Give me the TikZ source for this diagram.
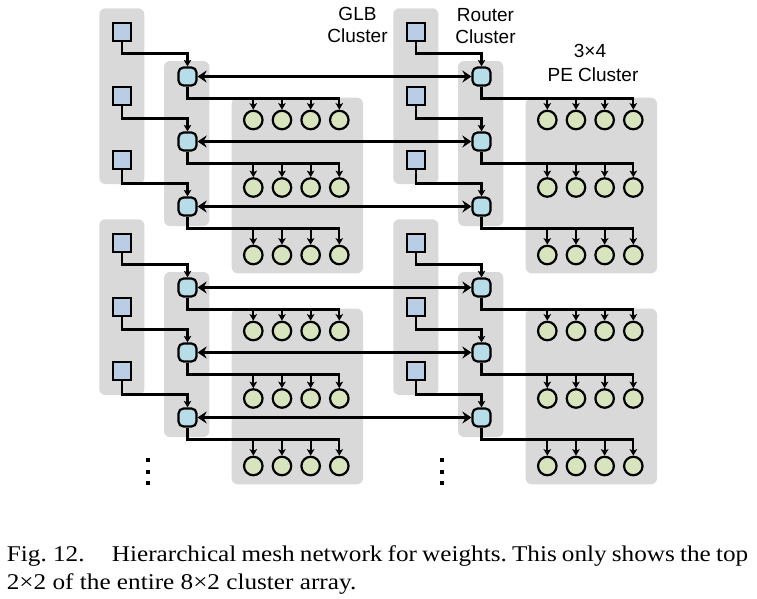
\documentclass[tikz,border=0pt]{standalone}
\usepackage{fontspec}
\setmainfont{Liberation Sans}
\newfontfamily\capfont[FakeStretch=1.12]{Liberation Serif}
\usetikzlibrary{arrows.meta,calc}
\definecolor{bgc}{HTML}{D9D9D9}
\definecolor{glbc}{HTML}{B9CDE5}
\definecolor{rtrc}{HTML}{B7DEE8}
\definecolor{pec}{HTML}{D7E4BD}
\tikzset{
 bgbox/.style={fill=bgc, rounded corners=6pt},
 glb/.style={draw, line width=2.2pt, fill=glbc, minimum size=18pt, inner sep=0pt},
 rtr/.style={draw, line width=2.2pt, fill=rtrc, minimum size=18pt, inner sep=0pt, rounded corners=5pt},
 pe/.style={circle, draw, line width=2.2pt, fill=pec, minimum size=18.5pt, inner sep=0pt},
 wire/.style={line width=2.2pt},
 warrow/.style={wire, -{Stealth[length=6.5pt,width=7.5pt,inset=1.5pt]}},
 biarrow/.style={line width=3.2pt, {Stealth[length=9pt,width=12pt,inset=3pt]}-{Stealth[length=9pt,width=12pt,inset=3pt]}},
 lbl/.style={font=\fontsize{19}{22}\selectfont, inner sep=0pt, anchor=base},
 capt/.style={font=\capfont\fontsize{22.5}{27}\selectfont\frenchspacing, inner sep=0pt, anchor=base west},
 dotbox/.style={fill=black, minimum size=3.8pt, inner sep=0pt}
}
\begin{document}
\begin{tikzpicture}[x=1pt,y=-1pt]
\fill[white] (0,0) rectangle (757,598);
\useasboundingbox (0,0) rectangle (757,598);
\foreach \i in {0,1}{
 \foreach \j in {0,1}{
  \pgfmathsetmacro\dx{294*\j}
  \pgfmathsetmacro\dy{211*\i}
  % backgrounds
  \fill[bgbox] (99.3+\dx,8.3+\dy) rectangle (144.3+\dx,184+\dy);
  \fill[bgbox] (164+\dx,61+\dy) rectangle (209.3+\dx,226+\dy);
  \fill[bgbox] (231.7+\dx,97.7+\dy) rectangle (363+\dx,273.3+\dy);
  \foreach \k in {0,1,2}{
   \pgfmathsetmacro\gy{32+64*\k+\dy}
   \pgfmathsetmacro\ry{76.5+65*\k+\dy}
   \pgfmathsetmacro\py{120+67.5*\k+\dy}
   \node[glb] (g\i\j\k) at (121.7+\dx,\gy) {};
   \node[rtr] (r\i\j\k) at (187.5+\dx,\ry) {};
   \foreach \m in {0,1,2,3}{
    \node[pe] (p\i\j\k\m) at (253.3+28.67*\m+\dx,\py) {};
   }
   \coordinate (b\i\j\k) at (187.5+\dx,\ry+22);
   \draw[warrow] (g\i\j\k.south) |- ([yshift=13pt]r\i\j\k.north) -- (r\i\j\k.north);
   \draw[warrow] (r\i\j\k.south) -- (b\i\j\k) -| (p\i\j\k3.north);
   \foreach \m in {0,1,2}{
    \draw[warrow] (p\i\j\k\m.north |- b\i\j\k) -- (p\i\j\k\m.north);
   }
  }
 }
}
\foreach \i in {0,1}{
 \foreach \k in {0,1,2}{
  \draw[biarrow] (r\i0\k.east) -- (r\i1\k.west);
 }
}
% labels
\node[lbl] (glba) at (357.5,20.7) {GLB};
\node[lbl] (glbb) at (357.5,42.7) {Cluster};
\node[lbl] (rtra) at (485.5,21) {Router};
\node[lbl] (rtrb) at (485.5,43) {Cluster};
\node[lbl] (pea) at (590,57.3) {3×4};
\node[lbl] (peb) at (593,81.7) {PE Cluster};
% dots
\foreach \x/\n in {148.3/l,442.3/r}{
 \node[dotbox] (d\n1) at (\x,460) {};
 \node[dotbox] (d\n2) at (\x,471.7) {};
 \node[dotbox] (d\n3) at (\x,483.3) {};
}
% caption
\node[capt] (capa) at (6.7,561.7) {Fig.~12.};
\node[capt] (capb) at (111.7,561.7) {\makebox[636.3pt][s]{\spaceskip=0.15em plus 1fil\relax Hierarchical mesh network for weights. This only shows the top}};
\node[capt] (capc) at (6.7,589.3) {2×2 of the entire 8×2 cluster array.};
\end{tikzpicture}
\end{document}
